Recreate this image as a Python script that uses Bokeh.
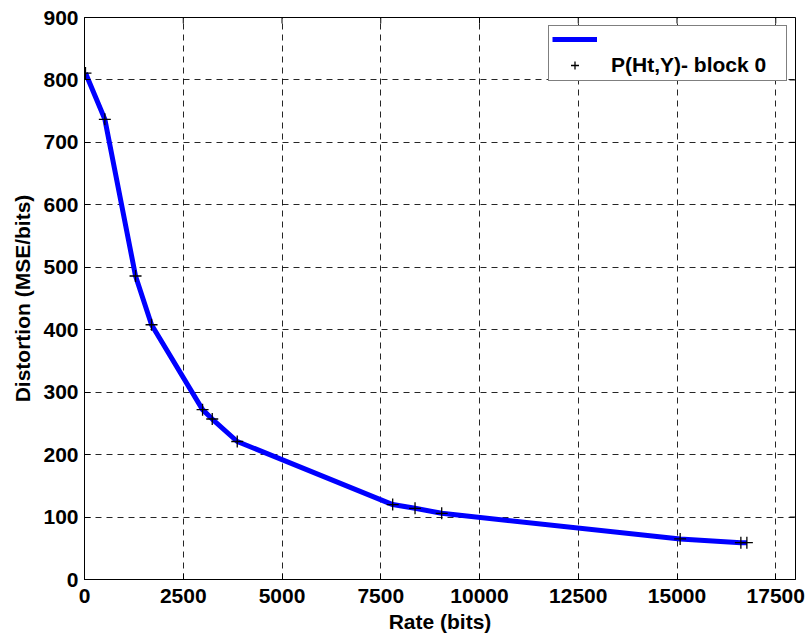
import math
from bokeh.plotting import figure
from bokeh.models import Range1d, Legend, LegendItem, FixedTicker
from bokeh.core.properties import value
from bokeh.embed import file_html
from bokeh.resources import INLINE

rate = [25, 515, 1292, 1697, 2989, 3234, 3867, 7802, 8368, 9043, 15080, 16617, 16769]
distortion = [811, 737, 486, 408, 272, 257, 221, 120, 114, 106, 65, 59, 59]
x_ticks = [0, 2500, 5000, 7500, 10000, 12500, 15000, 17500]
y_ticks = [0, 100, 200, 300, 400, 500, 600, 700, 800, 900]
x_max = 18000
y_max = 900
series_label = "P(Ht,Y)- block 0"

FONT = "Liberation Sans"
FS = "21px"

p = figure(frame_width=711, frame_height=562, output_backend="svg", toolbar_location=None,
           x_range=Range1d(0, x_max), y_range=Range1d(0, y_max),
           min_border_left=84, min_border_right=12, min_border_top=17, min_border_bottom=55,
           x_axis_label="Rate (bits)", y_axis_label="Distortion (MSE/bits)")
p.background_fill_color = "white"
p.border_fill_color = "white"
p.outline_line_color = "black"
p.outline_line_width = 1

for ax, ticks in ((p.xaxis[0], x_ticks), (p.yaxis[0], y_ticks)):
    ax.ticker = FixedTicker(ticks=ticks)
    ax.major_tick_in = 6
    ax.major_tick_out = 0
    ax.minor_tick_line_color = None
    ax.axis_line_color = "black"
    ax.major_label_text_font = FONT
    ax.major_label_text_font_style = "bold"
    ax.major_label_text_font_size = FS
    ax.major_label_text_color = "black"
    ax.axis_label_text_font = FONT
    ax.axis_label_text_font_style = "bold"
    ax.axis_label_text_font_size = FS
    ax.axis_label_text_color = "black"
p.xaxis.major_label_standoff = 9
p.yaxis.major_label_standoff = 6
p.xaxis.axis_label_standoff = 4
p.yaxis.axis_label_standoff = 6

# inward ticks on the top and right edges of the box (clipped to the frame)
p.scatter(x_ticks, [y_max] * len(x_ticks), marker="dash", angle=math.pi / 2, size=12,
          line_color="black", line_width=1)
p.scatter([x_max] * len(y_ticks), y_ticks, marker="dash", angle=0, size=12,
          line_color="black", line_width=1)

for g in (p.xgrid[0], p.ygrid[0]):
    g.grid_line_color = "black"
    g.grid_line_dash = "6 5"
    g.grid_line_width = 1
    g.grid_line_alpha = 0.85
p.xgrid.ticker = FixedTicker(ticks=x_ticks)
p.ygrid.ticker = FixedTicker(ticks=y_ticks)

line = p.line(rate, distortion, line_color="#0000ff", line_width=5)
pts = p.scatter(rate, distortion, marker="cross", size=12, line_color="black", line_width=1.3)

legend = Legend(items=[LegendItem(label=value(" "), renderers=[line]),
                       LegendItem(label=value(series_label), renderers=[pts])],
                location="top_right")
legend.margin = 8
legend.padding = 3
legend.spacing = 4
legend.glyph_width = 45
legend.glyph_height = 20
legend.label_height = 20
legend.label_standoff = 14
legend.label_width = 172
legend.label_text_font = FONT
legend.label_text_font_style = "bold"
legend.label_text_font_size = FS
legend.label_text_color = "black"
legend.border_line_color = "black"
legend.border_line_width = 1
legend.background_fill_alpha = 1
p.add_layout(legend, "center")

open("out.html", "w").write(file_html(p, INLINE))
